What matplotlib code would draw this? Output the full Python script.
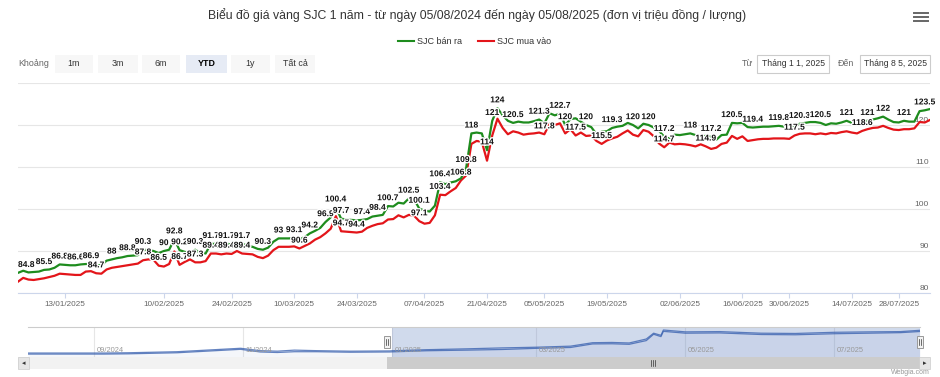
import numpy as np
import pandas as pd
import matplotlib
matplotlib.use("Agg")
import matplotlib.pyplot as plt
import matplotlib.patheffects as pe
from matplotlib.patches import Rectangle
from matplotlib.lines import Line2D

plt.rcParams["font.family"] = ["Liberation Sans", "DejaVu Sans"]

# ============================================================
# DATA (triệu đồng / lượng), one value per trading day, YTD 2025
# ============================================================

sell = [
    84.8, 85.3, 84.9, 85.0, 85.1, 85.5, 85.6, 86.0, 86.8, 86.7,
    86.6, 86.6, 86.8, 86.9, 86.9, 86.6, 86.6, 87.7, 88.0, 88.3,
    88.5, 88.8, 88.9, 89.0, 90.3, 90.2, 90.0, 89.5, 90.0, 90.3,
    92.8, 90.2, 89.8, 89.5, 90.3, 89.5, 89.4, 91.7, 91.7, 91.4,
    91.7, 91.6, 92.0, 91.7, 91.3, 91.0, 90.5, 90.3, 90.8, 92.2,
    93.0, 93.0, 93.0, 93.1, 92.8, 93.3, 94.2, 94.8, 95.5, 96.9,
    98.0, 100.4, 97.7, 97.5, 97.4, 97.3, 97.4, 97.6, 98.2, 98.4,
    98.6, 100.7, 100.6, 101.5, 101.3, 102.5, 102.3, 100.1, 99.6, 99.4,
    100.8, 106.4, 105.9, 106.3, 106.6, 107.3, 109.8, 118.0, 118.2, 118.0,
    114.0, 121.0, 124.0, 122.3, 121.0, 120.5, 120.8, 120.6, 120.6, 120.9,
    121.3, 120.4, 122.8, 122.3, 122.7, 120.0, 121.4, 121.6, 120.8, 120.0,
    119.5, 117.8, 118.4, 118.5, 119.3, 119.6, 119.8, 120.5, 120.0, 119.2,
    120.3, 120.0, 119.4, 118.6, 117.2, 116.8, 117.7, 117.6, 117.8, 118.0,
    117.6, 117.3, 117.4, 117.2, 116.5, 117.6, 117.7, 120.5, 120.4, 120.5,
    119.5, 119.4, 119.5, 119.6, 119.6, 119.7, 119.8, 119.6, 119.6, 119.7,
    120.3, 120.5, 120.7, 120.7, 120.5, 120.0, 120.4, 120.3, 120.6, 121.0,
    120.5, 120.2, 120.8, 121.0, 121.3, 121.6, 122.0, 121.3, 120.7, 120.6,
    121.0, 120.8, 120.8, 123.3, 123.5, 123.8,
]

buy = [
    82.7, 83.6, 83.2, 83.1, 83.3, 83.5, 83.8, 84.1, 84.6, 84.5,
    84.4, 84.3, 84.3, 85.1, 85.2, 84.7, 84.6, 85.6, 86.0, 86.2,
    86.4, 86.6, 86.8, 87.0, 87.8, 88.0, 87.9, 86.5, 86.3, 86.9,
    89.9, 86.7, 87.4, 88.0, 87.3, 87.3, 87.6, 89.4, 89.4, 89.2,
    89.4, 89.3, 90.0, 89.4, 89.3, 89.2, 88.6, 88.3, 88.9, 90.2,
    91.0, 91.0, 91.0, 91.1, 90.6, 91.2, 91.8, 92.7, 93.3, 94.2,
    95.3, 98.3, 94.7, 94.6, 94.5, 94.4, 94.6, 95.5, 96.0, 96.4,
    96.6, 97.5, 97.6, 98.5, 98.0, 98.6, 98.4, 97.1, 96.5, 96.7,
    98.5, 103.4, 103.3, 104.2, 105.0, 106.8, 108.0, 115.5, 116.2, 116.0,
    111.5, 117.5, 121.5, 119.3, 117.8, 118.5, 118.2, 117.7, 117.9, 118.0,
    118.2, 117.8, 120.3, 120.0, 120.4, 118.0, 119.0, 117.5, 118.2, 117.4,
    117.5, 116.2, 115.5, 116.3, 116.8, 117.2, 118.0, 118.7, 117.7, 117.3,
    118.8, 118.4, 117.3, 115.6, 114.7, 115.8, 115.4, 115.5, 115.4, 115.2,
    114.9, 115.4, 114.9, 114.3, 114.6, 115.5, 115.8, 117.4, 116.7, 117.3,
    116.2, 116.4, 116.6, 116.7, 116.7, 116.8, 116.8, 116.8, 116.7, 117.5,
    117.9, 118.0, 118.0, 117.8, 118.0, 117.8, 118.1, 118.0, 118.3, 118.5,
    118.2, 118.0, 118.6, 119.0, 119.3, 119.4, 119.8, 119.3, 118.9, 118.8,
    119.0, 119.0, 119.2, 120.7, 120.6, 121.2,
]

# points that carry a visible data label
sell_label_idx = [0, 5, 8, 11, 14, 18, 21, 24, 28, 30, 31, 34, 37, 40, 43, 47,
                  50, 53, 56, 59, 61, 62, 66, 69, 71, 75, 77, 81, 86, 87, 90,
                  91, 92, 95, 100, 104, 105, 109, 114, 118, 121, 124, 129, 133,
                  137, 141, 146, 150, 154, 159, 163, 166, 170, 174]
buy_label_idx = [15, 24, 27, 31, 34, 37, 40, 43, 54, 62, 65, 77, 81, 85, 101,
                 107, 112, 124, 132, 149, 162]

tick_pos = [9, 28, 41, 53, 65, 78, 90, 101, 113, 127, 139, 148, 160, 169]
tick_labels = ["13/01/2025", "10/02/2025", "24/02/2025", "10/03/2025",
               "24/03/2025", "07/04/2025", "21/04/2025", "05/05/2025",
               "19/05/2025", "02/06/2025", "16/06/2025", "30/06/2025",
               "14/07/2025", "28/07/2025"]

y_ticks = [80, 90, 100, 110, 120, 130]
y_labels_shown = [80, 90, 100, 110, 120]

# navigator (full year)
nav_dates = ["2024-08-05", "2024-08-20", "2024-09-05", "2024-09-15",
             "2024-09-25", "2024-10-05", "2024-10-15", "2024-10-25",
             "2024-10-31", "2024-11-08", "2024-11-15", "2024-11-22",
             "2024-12-01", "2024-12-15", "2024-12-31", "2025-01-01",
             "2025-01-15", "2025-02-01", "2025-02-15", "2025-03-01",
             "2025-03-15", "2025-03-24", "2025-04-01", "2025-04-08",
             "2025-04-15", "2025-04-18", "2025-04-21", "2025-04-22",
             "2025-05-01", "2025-05-15", "2025-06-01", "2025-06-15",
             "2025-07-01", "2025-07-15", "2025-07-28", "2025-08-05"]
nav_sell = [80.5, 80.5, 80.5, 81.0, 82.0, 83.0, 85.5, 88.0, 89.5, 85.0, 84.0,
            86.0, 85.0, 84.0, 84.5, 84.8, 86.8, 88.5, 90.2, 91.5, 93.5, 100.0,
            100.5, 99.5, 107.0, 118.0, 114.0, 124.0, 120.5, 121.0, 118.0,
            117.5, 119.7, 120.5, 121.0, 123.5]
nav_buy = [78.5, 78.5, 78.5, 79.0, 80.0, 81.0, 83.5, 86.0, 87.5, 82.5, 81.5,
           83.0, 83.0, 82.0, 82.5, 82.7, 84.8, 86.0, 87.2, 89.4, 91.0, 97.7,
           98.0, 97.0, 104.0, 116.0, 111.5, 121.5, 118.0, 118.5, 115.5,
           115.0, 117.0, 118.0, 119.0, 121.2]
nav_grid = ["2024-09-01", "2024-11-01", "2025-01-01", "2025-03-01",
            "2025-05-01", "2025-07-01"]
nav_start, nav_end = "2024-08-05", "2025-08-05"
sel_start, sel_end = "2025-01-01", "2025-08-05"

range_buttons = ["1m", "3m", "6m", "YTD", "1y", "Tất cả"]
selected_button = "YTD"

GREEN = "#1e8c1e"
RED = "#e3151a"
NAV_BLUE = "#335cad"

# ============================================================
# FIGURE / HELPERS (pixel layout -> figure fraction)
# ============================================================

W, H = 940, 377
fig = plt.figure(figsize=(W / 100, H / 100), dpi=100)


def fx(x):
    return x / W


def fy(y):
    return 1 - y / H


def frect(x0, y0, x1, y1):
    return [fx(x0), fy(y1), fx(x1) - fx(x0), fy(y0) - fy(y1)]


# ============================================================
# TITLE, MENU, LEGEND, RANGE SELECTOR
# ============================================================

fig.text(fx(477), fy(15),
         "Biểu đồ giá vàng SJC 1 năm - từ ngày 05/08/2024 đến ngày "
         "05/08/2025 (đơn vị triệu đồng / lượng)",
         ha="center", va="center", fontsize=8.8, color="#333333")

for yy in [13, 17, 21]:
    fig.add_artist(Line2D([fx(914), fx(928)], [fy(yy), fy(yy)],
                          color="#666666", lw=1.4))

for x0, col, name in [(398, GREEN, "SJC bán ra"), (478, RED, "SJC mua vào")]:
    fig.add_artist(Line2D([fx(x0), fx(x0 + 16)], [fy(41), fy(41)],
                          color=col, lw=1.5))
    fig.text(fx(x0 + 19), fy(41), name, ha="left", va="center",
             fontsize=6.5, color="#333333")

fig.text(fx(18), fy(64), "Khoảng", ha="left", va="center",
         fontsize=6.4, color="#666666")

btn_x = [55, 98, 142, 186, 231, 275]
btn_w = [38, 40, 38, 41, 39, 40]
for bx, bw, name in zip(btn_x, btn_w, range_buttons):
    sel = name == selected_button
    fig.add_artist(Rectangle((fx(bx), fy(73)), fx(bw), fy(55) - fy(73),
                             facecolor="#e6ebf5" if sel else "#f7f7f7",
                             edgecolor="none"))
    fig.text(fx(bx + bw / 2), fy(64), name, ha="center", va="center",
             fontsize=6.4, color="#000000" if sel else "#333333",
             fontweight="bold" if sel else "normal")

fig.text(fx(748), fy(64), "Từ", ha="center", va="center",
         fontsize=6.4, color="#666666")
fig.text(fx(846), fy(64), "Đến", ha="center", va="center",
         fontsize=6.4, color="#666666")
for x0, x1, txt in [(757, 829, "Tháng 1 1, 2025"), (860, 930, "Tháng 8 5, 2025")]:
    fig.add_artist(Rectangle((fx(x0), fy(73)), fx(x1 - x0), fy(55) - fy(73),
                             facecolor="white", edgecolor="#cccccc", lw=0.8))
    fig.text(fx((x0 + x1) / 2), fy(64), txt, ha="center", va="center",
             fontsize=6.2, color="#333333")

# ============================================================
# MAIN CHART
# ============================================================

ax = fig.add_axes(frect(18, 83, 930, 293))
days = np.arange(len(sell))

ax.plot(days, buy, color=RED, lw=1.6, zorder=3, solid_joinstyle="round")
ax.plot(days, sell, color=GREEN, lw=1.6, zorder=4, solid_joinstyle="round")

ax.set_xlim(0, len(sell) - 1)
ax.set_ylim(80, 130)
ax.set_yticks(y_ticks)
ax.yaxis.grid(True, color="#e6e6e6", lw=0.8)
ax.set_axisbelow(True)
ax.tick_params(axis="y", length=0, labelleft=False, labelright=False)

ax.set_xticks(tick_pos)
ax.set_xticklabels(tick_labels)
ax.tick_params(axis="x", length=3.6, width=0.8, color="#ccd6eb",
               labelcolor="#666666", labelsize=5.9, pad=2.5)

for side in ["left", "right", "top"]:
    ax.spines[side].set_visible(False)
ax.spines["bottom"].set_color("#ccd6eb")
ax.spines["bottom"].set_linewidth(0.8)

for v in y_labels_shown:
    ax.annotate(str(v), (1.0, v), xycoords=ax.get_yaxis_transform(),
                xytext=(-1, 1), textcoords="offset points",
                ha="right", va="bottom", fontsize=6.0, color="#666666",
                zorder=1)

outline = [pe.withStroke(linewidth=2.0, foreground="white")]
for series, idxs in [(sell, sell_label_idx), (buy, buy_label_idx)]:
    for i in idxs:
        ha = "left" if i == 0 else "center"
        ax.annotate(f"{series[i]:g}", (i, series[i]),
                    xytext=(0, 5.3), textcoords="offset points",
                    ha=ha, va="center", fontsize=6.1, fontweight="bold",
                    color="#111111", path_effects=outline, zorder=6,
                    annotation_clip=False)

# ============================================================
# NAVIGATOR
# ============================================================

nav = fig.add_axes(frect(28, 327, 920, 357))
nd = pd.to_datetime(nav_dates)
nav.fill_between(nd, nav_sell, 70, color=NAV_BLUE, alpha=0.05, lw=0)
nav.plot(nd, nav_buy, color=NAV_BLUE, lw=0.9, alpha=0.75)
nav.plot(nd, nav_sell, color=NAV_BLUE, lw=0.9, alpha=0.75)
nav.set_xlim(pd.Timestamp(nav_start), pd.Timestamp(nav_end))
nav.set_ylim(73, 129.7)
nav.axvspan(pd.Timestamp(sel_start), pd.Timestamp(sel_end),
            color="#6685c2", alpha=0.3, lw=0)
for g in nav_grid:
    t = pd.Timestamp(g)
    nav.axvline(t, color="#e6e6e6", lw=0.8, zorder=0)
    nav.annotate(t.strftime("%m/%Y"), (t, 0.23),
                 xycoords=("data", "axes fraction"),
                 xytext=(2, 0), textcoords="offset points",
                 ha="left", va="center", fontsize=5.4, color="#999999")
nav.set_xticks([])
nav.set_yticks([])
for side in nav.spines:
    nav.spines[side].set_visible(False)
fig.add_artist(Line2D([fx(28), fx(920)], [fy(327), fy(327)],
                      color="#cccccc", lw=0.8))

# handles
for hx in [387, 920]:
    fig.add_artist(Rectangle((fx(hx - 3), fy(348)), fx(6), fy(336) - fy(348),
                             facecolor="#f2f2f2", edgecolor="#999999", lw=0.7))
    for dx in [-1, 1]:
        fig.add_artist(Line2D([fx(hx + dx), fx(hx + dx)], [fy(339), fy(345)],
                              color="#333333", lw=0.5))

# scrollbar
fig.add_artist(Rectangle((fx(18), fy(369)), fx(912), fy(357) - fy(369),
                         facecolor="#f2f2f2", edgecolor="none"))
fig.add_artist(Rectangle((fx(387), fy(369)), fx(533), fy(357) - fy(369),
                         facecolor="#cccccc", edgecolor="none"))
for bx in [18, 919]:
    fig.add_artist(Rectangle((fx(bx), fy(369)), fx(11), fy(357) - fy(369),
                             facecolor="#e6e6e6", edgecolor="#cccccc", lw=0.5))
fig.text(fx(23.5), fy(363), "◂", ha="center", va="center", fontsize=5,
         color="#333333", family="DejaVu Sans")
fig.text(fx(924.5), fy(363), "▸", ha="center", va="center", fontsize=5,
         color="#333333", family="DejaVu Sans")
for dx in [-2, 0, 2]:
    fig.add_artist(Line2D([fx(653 + dx), fx(653 + dx)], [fy(360), fy(366)],
                          color="#333333", lw=0.5))

fig.text(fx(930), fy(373), "Webgia.com", ha="right", va="center",
         fontsize=5.0, color="#999999")

fig.savefig("out.png", dpi=100)
